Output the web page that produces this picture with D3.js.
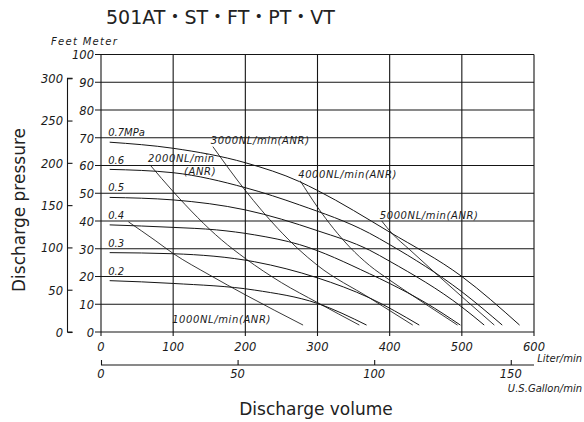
<!DOCTYPE html>
<html>
<head>
<meta charset="utf-8">
<script src="https://cdn.jsdelivr.net/npm/d3@7"></script>
<style>
body { margin: 0; background: #fff; }
svg { display: block; }
.lbl { font-family: "DejaVu Sans", sans-serif; font-style: italic; fill: #1a1a1a; }
.ttl { font-family: "DejaVu Sans", "Noto Sans CJK JP", sans-serif; fill: #222; }
</style>
</head>
<body>
<svg id="chart" width="584" height="422"></svg>
<script>
// axis ticks
const flowTicks = [0, 100, 200, 300, 400, 500, 600];
const meterTicks = [0, 10, 20, 30, 40, 50, 60, 70, 80, 90, 100];
const feetTicks = [0, 50, 100, 150, 200, 250, 300];
const gallonTicks = [0, 50, 100, 150];

// pressure curves, [flow L/min, head m]
const pressureNames = ["0.7MPa", "0.6", "0.5", "0.4", "0.3", "0.2"];
const pressureValues = [0.7, 0.6, 0.5, 0.4, 0.3, 0.2];
const curve07 = [[12, 68.4], [100, 66.2], [200, 61], [275, 54.2], [300, 51], [400, 36], [500, 20], [580, 2.5]];
const curve06 = [[12, 58.6], [100, 57.4], [200, 52], [275, 45.8], [372, 35.6], [400, 31.5], [500, 14.5], [556, 2.5]];
const curve05 = [[12, 48.5], [100, 47.6], [200, 44], [300, 36.5], [372, 29.5], [400, 25.5], [500, 9], [531, 2.5]];
const curve04 = [[12, 38.6], [100, 37.7], [160, 36.8], [213, 35], [275, 31.5], [372, 21], [400, 17.5], [450, 10.5], [498, 2.5]];
const curve03 = [[12, 28.6], [100, 28.2], [213, 25.3], [300, 19.5], [372, 12.3], [441, 2.5]];
const curve02 = [[12, 18.5], [100, 17.5], [213, 15.1], [300, 10.3], [368, 2.5]];

// air consumption lines
const airNames = ["1000NL/min(ANR)", "2000NL/min", "3000NL/min(ANR)", "4000NL/min(ANR)", "5000NL/min(ANR)"];
const air1000 = [[38, 39.7], [75, 33], [100, 28.3], [150, 20.6], [200, 13.4], [280, 2.5]];
const air2000 = [[68, 60.2], [100, 50.6], [167, 33.2], [200, 26.5], [250, 17.8], [300, 10.6], [358, 2.5]];
const air3000 = [[155, 66.8], [200, 51], [245, 37.3], [273, 30], [300, 24], [372, 12.3], [432, 2.5]];
const air4000 = [[276, 54.5], [300, 45], [345, 30.5], [372, 24], [400, 18.7], [450, 10], [494, 2.5]];
const air5000 = [[389, 40], [403, 35.6], [428, 29.6], [469, 19.9], [545, 2.5]];

const M_TO_FT = 3.28084;
const GAL_TO_L = 3.78541;

const svg = d3.select("#chart");

const x = d3.scaleLinear().domain([0, 600]).range([101, 534]);
const y = d3.scaleLinear().domain([0, 100]).range([332, 54.5]);
const yFeet = d3.scaleLinear().domain([0, 100 * M_TO_FT]).range([332, 54.5]);
const xGal = d3.scaleLinear().domain([0, 600 / GAL_TO_L]).range([101, 534]);

const ink = "#151515";

// grid
const grid = svg.append("g");
grid.selectAll(".vg")
    .data(flowTicks)
    .enter().append("line")
    .attr("x1", d => x(d)).attr("x2", d => x(d))
    .attr("y1", y(100)).attr("y2", y(0) + 4)
    .attr("stroke", ink).attr("stroke-width", 1.1);
grid.selectAll(".hg")
    .data(meterTicks)
    .enter().append("line")
    .attr("x1", x(0) - 6).attr("x2", x(600))
    .attr("y1", d => y(d)).attr("y2", d => y(d))
    .attr("stroke", ink).attr("stroke-width", 1.1);

// meter labels
svg.append("g").selectAll("text")
    .data(meterTicks)
    .enter().append("text")
    .attr("class", "lbl")
    .attr("x", 94)
    .attr("y", d => y(d))
    .attr("dy", "0.42em")
    .attr("text-anchor", "end")
    .attr("font-size", 11.5)
    .text(d => d);

// feet axis
const feetAxis = d3.axisRight(yFeet).tickValues(feetTicks).tickSize(5).tickFormat("");
const fg = svg.append("g")
    .attr("transform", "translate(67.5,0)")
    .call(feetAxis);
fg.select(".domain").attr("d", `M5,${yFeet(300)}H0V${yFeet(0)}H5`).attr("stroke", ink).attr("stroke-width", 1.1);
fg.selectAll(".tick line").attr("stroke", ink).attr("stroke-width", 1.1);

svg.append("g").selectAll("text")
    .data(feetTicks)
    .enter().append("text")
    .attr("class", "lbl")
    .attr("x", 63)
    .attr("y", d => yFeet(d))
    .attr("dy", "0.42em")
    .attr("text-anchor", "end")
    .attr("font-size", 11.5)
    .text(d => d);

svg.append("text")
    .attr("class", "lbl")
    .attr("x", 51).attr("y", 45)
    .attr("font-size", 10)
    .attr("letter-spacing", 1.3)
    .text("Feet Meter");

// flow labels (liter)
svg.append("g").selectAll("text")
    .data(flowTicks)
    .enter().append("text")
    .attr("class", "lbl")
    .attr("x", d => x(d))
    .attr("y", 351)
    .attr("text-anchor", "middle")
    .attr("font-size", 11.5)
    .text(d => d);

svg.append("text")
    .attr("class", "lbl")
    .attr("x", 582).attr("y", 362)
    .attr("text-anchor", "end")
    .attr("font-size", 10)
    .text("Liter/min");

// gallon axis
const galAxis = d3.axisTop(xGal).tickValues(gallonTicks).tickSize(5).tickFormat("");
const gg = svg.append("g")
    .attr("transform", "translate(0,365)")
    .call(galAxis);
gg.select(".domain").attr("d", `M${x(0)},0H${x(600)}`).attr("stroke", ink).attr("stroke-width", 1.1);
gg.selectAll(".tick line").attr("stroke", ink).attr("stroke-width", 1.1);

svg.append("g").selectAll("text")
    .data(gallonTicks)
    .enter().append("text")
    .attr("class", "lbl")
    .attr("x", d => xGal(d))
    .attr("y", 378)
    .attr("text-anchor", "middle")
    .attr("font-size", 11.5)
    .text(d => d);

svg.append("text")
    .attr("class", "lbl")
    .attr("x", 582).attr("y", 392)
    .attr("text-anchor", "end")
    .attr("font-size", 10)
    .text("U.S.Gallon/min");

// curves
const line = d3.line()
    .x(d => x(d[0]))
    .y(d => y(d[1]))
    .curve(d3.curveMonotoneX);

const pressureSeries = [curve07, curve06, curve05, curve04, curve03, curve02];
const airSeries = [air1000, air2000, air3000, air4000, air5000];

svg.append("g").selectAll("path")
    .data(pressureSeries)
    .enter().append("path")
    .attr("d", line)
    .attr("fill", "none")
    .attr("stroke", ink)
    .attr("stroke-width", 1);

svg.append("g").selectAll("path")
    .data(airSeries)
    .enter().append("path")
    .attr("d", line)
    .attr("fill", "none")
    .attr("stroke", ink)
    .attr("stroke-width", 0.85);

// pressure labels
svg.append("g").selectAll("text")
    .data(pressureNames)
    .enter().append("text")
    .attr("class", "lbl")
    .attr("x", x(10))
    .attr("y", (d, i) => y(pressureValues[i] * 100) - 2)
    .attr("font-size", 10)
    .text(d => d);

// air labels, anchored at line start (1000NL sits at the foot)
const airLbl = svg.append("g");
airNames.forEach((name, i) => {
    const s = airSeries[i][0];
    let lx = x(s[0]) - 2;
    let ly = y(s[1]) - 2.5;
    if (i === 0) { lx = x(100) - 1; ly = y(3.1); }
    airLbl.append("text")
        .attr("class", "lbl")
        .attr("x", lx).attr("y", ly)
        .attr("font-size", 10)
        .attr("letter-spacing", 0.6)
        .text(name);
    if (i === 1) {
        airLbl.append("text")
            .attr("class", "lbl")
            .attr("x", lx + 36).attr("y", ly + 13)
            .attr("font-size", 10)
            .attr("letter-spacing", 0.6)
            .text("(ANR)");
    }
});

// titles
svg.append("text")
    .attr("class", "ttl")
    .attr("x", 106).attr("y", 24)
    .attr("font-size", 19)
    .text("501AT・ST・FT・PT・VT");

svg.append("text")
    .attr("class", "ttl")
    .attr("transform", "translate(25,210) rotate(-90)")
    .attr("text-anchor", "middle")
    .attr("font-size", 17)
    .text("Discharge pressure");

svg.append("text")
    .attr("class", "ttl")
    .attr("x", 316).attr("y", 415)
    .attr("text-anchor", "middle")
    .attr("font-size", 17)
    .text("Discharge volume");
</script>
</body>
</html>
